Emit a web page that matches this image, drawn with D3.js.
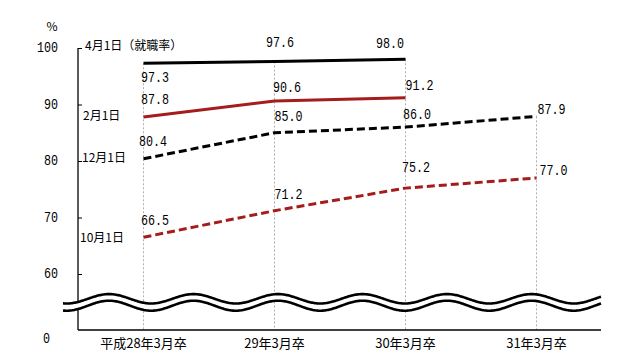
<!DOCTYPE html>
<html><head><meta charset="utf-8">
<script src="https://cdn.jsdelivr.net/npm/d3@7"></script>
<style>
html,body{margin:0;padding:0;background:#fff;}
svg{display:block;}
</style></head>
<body>
<svg id="chart" width="637" height="354"></svg>
<script>
// ---- data ----
const categories = ["平成28年3月卒", "29年3月卒", "30年3月卒", "31年3月卒"];
const seriesNames = ["4月1日（就職率）", "2月1日", "12月1日", "10月1日"];
const apr1 = [97.3, 97.6, 98.0, null];
const feb1 = [87.8, 90.6, 91.2, null];
const dec1 = [80.4, 85.0, 86.0, 87.9];
const oct1 = [66.5, 71.2, 75.2, 77.0];
const yTicks = [60, 70, 80, 90, 100];
const breakLabel = "0";
const unitLabel = "%";

// ---- styles ----
const styles = [
  {color: "#000000", dash: null},
  {color: "#a51c1c", dash: null},
  {color: "#000000", dash: "8,4"},
  {color: "#a51c1c", dash: "8,4"}
];
// label offsets relative to point: [dx, dy, anchor]
const labelPos = [
  [[-2.5, 14.5, "start"], [-8.5, -18.5, "start"], [-1.5, -15, "end"], null],
  [[-2.5, -17, "start"], [-1.5, -13, "start"], [0, -12, "start"], null],
  [[-4.5, -16.5, "start"], [0, -16, "start"], [-2.5, -12, "start"], [1, -6.5, "start"]],
  [[-2.5, -16, "start"], [0, -16, "start"], [-3.5, -20.5, "start"], [3, -7, "start"]]
];
const nameLabelPos = [[85, 44], [83, 114], [82, 156], [80, 236]];

const data = [apr1, feb1, dec1, oct1];

const svg = d3.select("#chart");
const pL = 78, pR = 602, pT = 48, pB = 330;

const x = d3.scaleBand().domain(categories).range([pL, pR]);
const y = d3.scaleLinear().domain([60, 100]).range([274, pT]);
const cx = c => x(c) + x.bandwidth() / 2;

const numFont = "'Liberation Mono','DejaVu Sans Mono',monospace";
const cjkFont = "'Noto Sans CJK JP','Noto Sans CJK SC',sans-serif";

function numText(g, str, px, py, anchor, size) {
  size = size || 14;
  const t = g.append("text").attr("x", px).attr("y", py)
    .attr("text-anchor", anchor).attr("dominant-baseline", "central")
    .attr("font-family", numFont).attr("font-size", size).attr("fill", "#000")
    .text(str);
  t.attr("textLength", str.length * size * 0.5).attr("lengthAdjust", "spacingAndGlyphs");
  return t;
}

// vertical dashed gridlines
categories.forEach((c, i) => {
  const vals = data.map(s => s[i]).filter(v => v != null);
  svg.append("line")
    .attr("x1", cx(c)).attr("x2", cx(c))
    .attr("y1", y(d3.max(vals))).attr("y2", pB)
    .attr("stroke", "#b0b0b0").attr("stroke-width", 1).attr("stroke-dasharray", "2,2");
});

// y axis
const yAxis = d3.axisRight(y).tickValues(yTicks).tickSize(4).tickFormat("");
const ya = svg.append("g").attr("transform", `translate(${pL},0)`).call(yAxis);
ya.select(".domain").remove();
ya.selectAll("line").attr("stroke", "#000");
svg.append("line").attr("x1", pL).attr("x2", pL).attr("y1", pT).attr("y2", pB)
  .attr("stroke", "#000").attr("stroke-width", 1.3);
yTicks.forEach(v => numText(svg, String(v), 58, y(v), "end", 14));
numText(svg, breakLabel, 43, 339, "start", 14);
svg.append("text").attr("x", 52).attr("y", 25).attr("text-anchor", "middle")
  .attr("dominant-baseline", "central").attr("font-family", cjkFont)
  .attr("font-size", 12).text(unitLabel);

// x axis
svg.append("line").attr("x1", pL).attr("x2", pR - 1).attr("y1", pB).attr("y2", pB)
  .attr("stroke", "#000").attr("stroke-width", 1.3);
categories.forEach(c => {
  svg.append("text").attr("x", cx(c)).attr("y", 342).attr("text-anchor", "middle")
    .attr("dominant-baseline", "central").attr("font-family", cjkFont)
    .attr("font-size", 13).attr("fill", "#000").text(c);
});

// wave break
const period = 84.5, peakX = 278;
const waveX = d3.range(63, 601.5, 1);
const wave = (cy, amp) => waveX.map(px => [px, cy - amp * Math.cos(2 * Math.PI * (px - peakX) / period)]);
const upperW = wave(298.8, 4.7), lowerW = wave(305.7, 5);
svg.append("path")
  .attr("d", d3.line()(upperW.concat(lowerW.slice().reverse())) + "Z")
  .attr("fill", "#fff");
[upperW, lowerW].forEach(w => svg.append("path").attr("d", d3.line()(w))
  .attr("fill", "none").attr("stroke", "#000").attr("stroke-width", 2.6));

// series lines
const lineGen = d3.line().defined(d => d.v != null).x(d => cx(d.c)).y(d => y(d.v));
data.forEach((s, si) => {
  const pts = s.map((v, i) => ({c: categories[i], v}));
  const p = svg.append("path").attr("d", lineGen(pts)).attr("fill", "none")
    .attr("stroke", styles[si].color).attr("stroke-width", 3);
  if (styles[si].dash) p.attr("stroke-dasharray", styles[si].dash);
  pts.forEach((d, i) => {
    if (d.v == null) return;
    const lp = labelPos[si][i];
    numText(svg, d.v.toFixed(1), cx(d.c) + lp[0], y(d.v) + lp[1], lp[2], 14);
  });
  svg.append("text").attr("x", nameLabelPos[si][0]).attr("y", nameLabelPos[si][1])
    .attr("dominant-baseline", "central").attr("font-family", cjkFont)
    .attr("font-size", 12).attr("fill", "#000").text(seriesNames[si]);
});
</script>
</body></html>
